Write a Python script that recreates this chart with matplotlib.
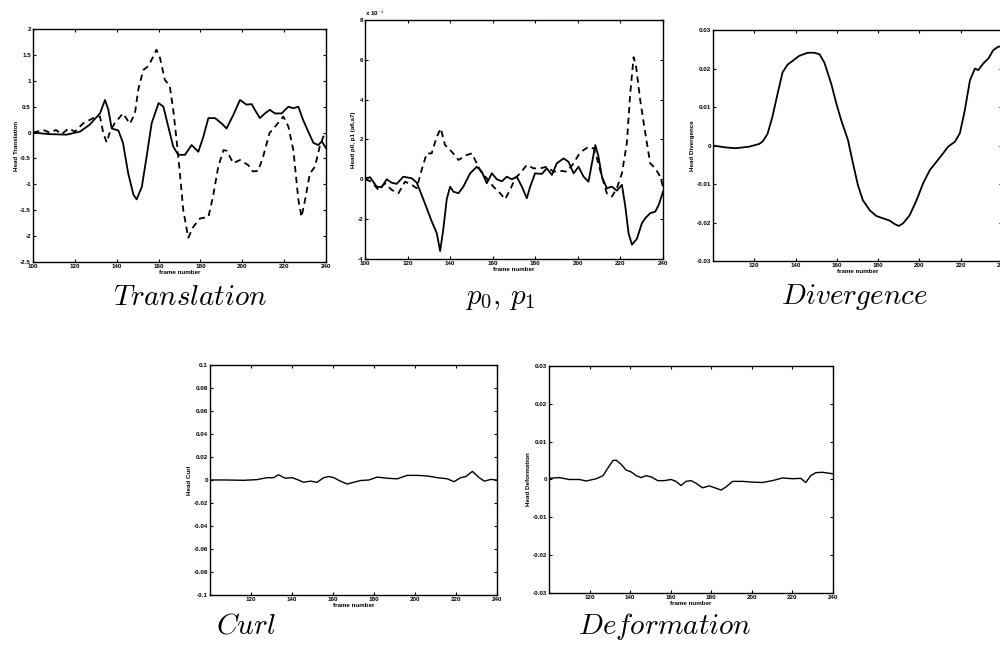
import matplotlib
matplotlib.use('Agg')
from matplotlib import pyplot as plt

plt.rcParams['font.family'] = ['Liberation Sans', 'DejaVu Sans']
plt.rcParams['mathtext.fontset'] = 'cm'

# --- Translation (solid / dashed)
trans_f_solid = [100, 108, 116, 122.5, 127, 132, 134.4, 136, 137.6, 140.8, 143, 145.5, 148, 149.5,
                 152, 154.3, 156.7, 160, 162.3, 164.6, 167, 169.4, 172.6, 175.8, 179, 181.4, 183.8,
                 187, 190, 192.5, 195.7, 198.9, 202, 204.5, 206, 208.4, 210.8, 213.2, 215.6, 218.8,
                 222, 224.4, 226.8, 229, 231.5, 234, 236.3, 238, 240]
trans_solid = [0, -0.03, -0.04, 0.02, 0.15, 0.37, 0.63, 0.44, 0.08, 0.04, -0.2, -0.79, -1.2, -1.29,
               -1.05, -0.46, 0.18, 0.57, 0.5, 0.12, -0.27, -0.43, -0.43, -0.24, -0.37, -0.08, 0.28,
               0.28, 0.18, 0.08, 0.34, 0.63, 0.54, 0.55, 0.44, 0.28, 0.37, 0.44, 0.37, 0.37,
               0.5, 0.47, 0.5, 0.25, 0.02, -0.2, -0.24, -0.17, -0.3]
trans_f_dash = [100, 105, 108, 111, 113.7, 117, 120, 124, 128.8, 132, 133.6, 135.2, 136.8, 139, 143,
                146.3, 148.7, 150.3, 152.7, 155, 157.5, 159, 160.7, 163, 165.4, 167, 168.6, 170.2,
                171.8, 174.2, 176.6, 179.8, 183.8, 186, 188.5, 191, 192.5, 195.7, 198.9, 202.9, 205,
                207.6, 210, 213, 216.4, 219.6, 222, 224.4, 226.8, 228.3, 230, 232.3, 234.7, 237,
                238.7, 240]
trans_dash = [0, 0.05, 0, 0.05, -0.03, 0.08, 0.02, 0.18, 0.28, 0.31, -0.01, -0.19, 0.02, 0.18, 0.37,
              0.17, 0.37, 0.83, 1.21, 1.28, 1.47, 1.6, 1.44, 1.02, 0.89, 0.44, -0.14, -0.79,
              -1.5, -2.03, -1.82, -1.66, -1.63, -1.24, -0.66, -0.34, -0.35, -0.59, -0.53, -0.63, -0.75,
              -0.74, -0.46, -0.01, 0.15, 0.31, 0.12, -0.34, -1.3, -1.63, -1.3, -0.79, -0.66, -0.27,
              -0.08, -0.05]

# --- p0, p1 (units of 1e-4)
p_f_solid = [100, 102.4, 105.5, 107.8, 110.2, 112.5, 114.9, 118, 122, 124.3, 126.6, 129, 131.3, 133.7,
             135.3, 136.8, 138.4, 140, 141.5, 143.9, 146.2, 149.4, 152.5, 154.9, 157.2, 159.6, 161.9,
             164.3, 166.6, 169, 171.3, 173.7, 176, 177.6, 179.9, 183.1, 185.4, 187.8, 190.1, 193.3,
             195.6, 198, 200.3, 202.7, 205, 206.6, 208.2, 209.7, 211.3, 213.6, 216, 218.3, 220.7,
             222.3, 223.8, 225.4, 227.7, 230.1, 231.7, 234, 236.4, 238, 240]
p_solid = [0.05, 0.1, -0.37, -0.4, 0, -0.17, -0.23, 0.13, 0.05, -0.17, -0.78, -1.45, -2.1, -2.7,
           -3.6, -2.5, -1.0, -0.37, -0.62, -0.7, -0.37, 0.3, 0.63, 0.38, -0.2, 0.3, 0,
           -0.1, 0.13, 0, 0.13, -0.37, -0.95, -0.37, 0.3, 0.27, 0.55, 0.22, 0.8, 1.05,
           0.88, 0.3, 0.63, 0.13, -0.12, 0.8, 1.72, 1.13, 0.13, -0.45, -0.37, -0.57, -0.28,
           -1.37, -2.7, -3.28, -3.0, -2.2, -1.95, -1.7, -1.62, -1.28, -0.62]
p_f_dash = [100, 103, 106.3, 109.4, 112.5, 115.7, 118.8, 122, 124.3, 126.6, 129, 131.3, 133.7, 135.6,
            137.6, 140.8, 143.9, 147.8, 150.2, 152.5, 154.9, 157.2, 160.3, 163.5, 165.8, 168.2,
            170.5, 172.9, 176, 179.2, 182.3, 185.4, 188.6, 191.7, 194.8, 198, 200.3, 202.7, 205,
            207.4, 209, 211.3, 213.6, 216, 218.3, 220.7, 223, 224.6, 226.2, 227.4, 229.3, 231.7,
            234, 236.4, 238.7, 240]
p_dash = [0, -0.12, -0.53, -0.2, -0.53, -0.7, -0.12, -0.28, -0.45, 0.47, 1.3, 1.3, 2.13, 2.55,
          1.72, 1.38, 0.97, 1.22, 1.3, 0.8, 0.3, 0.05, -0.37, -0.7, -1.0, -0.53,
          0.05, 0.3, 0.72, 0.55, 0.55, 0.63, 0.38, 0.43, 0.38, 0.8, 1.22, 1.47, 1.63,
          1.55, 1.05, 0.13, -0.7, -0.87, -0.45, 0.3, 1.8, 4.3, 6.13, 5.63, 3.97, 2.3,
          0.8, 0.55, 0.13, -0.37]

# --- Divergence
div_f = [100, 106.2, 111, 117.5, 122.3, 124, 126.4, 128.8, 131.3, 133.7, 136.1, 138.6, 141.8, 145.9,
         149.1, 151.6, 154, 157.3, 159.7, 162.1, 165.4, 167.8, 170.2, 172.6, 175.9, 179.1, 182.3,
         185.6, 188, 190, 192.1, 195.3, 198.6, 201.8, 205, 208.3, 211.5, 213.9, 217.2, 219.6, 222,
         224.5, 226.9, 228.5, 230.9, 233.4, 235.8, 238.3, 240]
div_v = [0, -0.0005, -0.0007, -0.0003, 0.0004, 0.001, 0.003, 0.0075, 0.0135, 0.019, 0.021, 0.022,
         0.0233, 0.0241, 0.0241, 0.0237, 0.0215, 0.016, 0.011, 0.0066, 0.0014, -0.0046, -0.0103,
         -0.0142, -0.0168, -0.0183, -0.0189, -0.0195, -0.0204, -0.0209, -0.0202, -0.0181, -0.0142,
         -0.0098, -0.0064, -0.0042, -0.002, -0.0003, 0.001, 0.0032, 0.0092, 0.017, 0.02, 0.0196,
         0.0213, 0.0226, 0.0248, 0.0257, 0.0257]

# --- Curl
curl_f = [100, 108, 116.3, 123, 127.7, 131, 133.4, 136.7, 140, 142.4, 145.7, 149, 152.2, 155.5, 158,
          160.4, 163.6, 166.9, 170.1, 173.4, 177.5, 181.6, 186.5, 191.3, 196.2, 201.1, 206, 210.9,
          215.8, 219, 222.3, 224.8, 228, 231.3, 233.8, 237, 240]
curl_v = [0, 0, -0.0003, 0.0003, 0.002, 0.002, 0.0045, 0.0015, 0.002, 0.0005, -0.002, -0.001, -0.002,
          0.002, 0.003, 0.002, -0.001, -0.0035, -0.002, -0.0005, 0, 0.0025, 0.0015, 0.001, 0.004,
          0.004, 0.0035, 0.002, 0.001, -0.0015, 0.002, 0.003, 0.0075, 0.002, -0.001, 0.0005, 0]

# --- Deformation
def_f = [100, 105, 110, 115, 118.3, 123.3, 126.6, 129, 131.5, 133.1, 135.6, 138, 140.5, 143, 145.4,
         147.9, 150.3, 153.6, 156.9, 160.2, 162.6, 165.1, 167.5, 170, 172.5, 175.7, 179, 182.3, 184.8,
         187.2, 190.5, 195.4, 200.3, 205.2, 210.2, 215.1, 220, 224.1, 226.6, 229, 231.5, 234.8, 240]
def_v = [0.0003, 0.0005, 0, 0, -0.0004, 0.0002, 0.001, 0.003, 0.005, 0.0051, 0.004, 0.0025, 0.002,
         0.001, 0.0005, 0.001, 0.0007, -0.0003, -0.0003, 0, -0.0005, -0.0016, -0.0005, -0.0003,
         -0.001, -0.0022, -0.0017, -0.0023, -0.0028, -0.002, -0.0005, -0.0005, -0.0007, -0.0008,
         -0.0003, 0.0004, 0.0002, 0.0003, -0.0008, 0.001, 0.0018, 0.0019, 0.0015]

frame_ticks = [100, 120, 140, 160, 180, 200, 220, 240]

fig = plt.figure(figsize=(10, 6.63), dpi=100)

tick_fs = 4.5
lab_fs = 4.5


def setup(ax, ylim, yticks, ylabels, ylabel, xticks, xlabels):
    ax.set_xlim(100, 240)
    ax.set_ylim(*ylim)
    ax.set_xticks(xticks)
    ax.set_xticklabels(xlabels, fontsize=tick_fs, fontweight='bold')
    ax.set_yticks(yticks)
    ax.set_yticklabels(ylabels, fontsize=tick_fs, fontweight='bold')
    ax.tick_params(direction='in', length=2, width=0.8, top=True, right=True, pad=1.5)
    ax.set_xlabel('frame number', fontsize=lab_fs, fontweight='bold', labelpad=0.5)
    ax.set_ylabel(ylabel, fontsize=lab_fs, fontweight='bold', labelpad=1)
    for s in ax.spines.values():
        s.set_linewidth(1.0)


dash = (0, (3.5, 2.5))

# Translation
ax1 = fig.add_axes([0.033, 0.6048, 0.293, 0.3514])
ax1.plot(trans_f_solid, trans_solid, color='black', lw=1.3)
ax1.plot(trans_f_dash, trans_dash, color='black', lw=1.3, ls=dash)
setup(ax1, (-2.5, 2), [-2.5, -2, -1.5, -1, -0.5, 0, 0.5, 1, 1.5, 2],
      ['-2.5', '-2', '-1.5', '-1', '-0.5', '0', '0.5', '1', '1.5', '2'],
      'Head Translation', frame_ticks, [str(t) for t in frame_ticks])

# p0, p1
ax2 = fig.add_axes([0.365, 0.6094, 0.298, 0.3605])
ax2.plot(p_f_solid, p_solid, color='black', lw=1.3)
ax2.plot(p_f_dash, p_dash, color='black', lw=1.3, ls=dash)
setup(ax2, (-4, 8), [-4, -2, 0, 2, 4, 6, 8], ['-4', '-2', '0', '2', '4', '6', '8'],
      'Head p0, p1 (a6,a7)', frame_ticks, [str(t) for t in frame_ticks])
ax2.text(0.0, 1.01, r'x 10$^{-4}$', transform=ax2.transAxes, fontsize=tick_fs,
         fontweight='bold', ha='left', va='bottom')

# Divergence (right edge runs just past the page, as in the scan)
ax3 = fig.add_axes([0.713, 0.6063, 0.289, 0.3484])
ax3.plot(div_f, div_v, color='black', lw=1.3)
setup(ax3, (-0.03, 0.03), [-0.03, -0.02, -0.01, 0, 0.01, 0.02, 0.03],
      ['-0.03', '-0.02', '-0.01', '0', '0.01', '0.02', '0.03'],
      'Head Divergence', frame_ticks[1:], [str(t) for t in frame_ticks[1:]])

# Curl
ax4 = fig.add_axes([0.210, 0.1026, 0.287, 0.3469])
ax4.plot(curl_f, curl_v, color='black', lw=1.0)
setup(ax4, (-0.1, 0.1), [-0.1, -0.08, -0.06, -0.04, -0.02, 0, 0.02, 0.04, 0.06, 0.08, 0.1],
      ['-0.1', '-0.08', '-0.06', '-0.04', '-0.02', '0', '0.02', '0.04', '0.06', '0.08', '0.1'],
      'Head Curl', frame_ticks[1:], [str(t) for t in frame_ticks[1:]])

# Deformation
ax5 = fig.add_axes([0.549, 0.1056, 0.284, 0.3424])
ax5.plot(def_f, def_v, color='black', lw=1.0)
setup(ax5, (-0.03, 0.03), [-0.03, -0.02, -0.01, 0, 0.01, 0.02, 0.03],
      ['-0.03', '-0.02', '-0.01', '0', '0.01', '0.02', '0.03'],
      'Head Deformation', frame_ticks[1:], [str(t) for t in frame_ticks[1:]])

# captions
cap_fs = 21
fig.text(0.190, 1 - 297 / 663, r'$Translation$', fontsize=cap_fs, ha='center', va='center')
fig.text(0.500, 1 - 298 / 663, r'$p_0,\, p_1$', fontsize=cap_fs, ha='center', va='center')
fig.text(0.855, 1 - 297 / 663, r'$Divergence$', fontsize=cap_fs, ha='center', va='center')
fig.text(0.246, 1 - 626 / 663, r'$Curl$', fontsize=cap_fs, ha='center', va='center')
fig.text(0.665, 1 - 627 / 663, r'$Deformation$', fontsize=cap_fs, ha='center', va='center')

fig.savefig('out.png', dpi=100)
